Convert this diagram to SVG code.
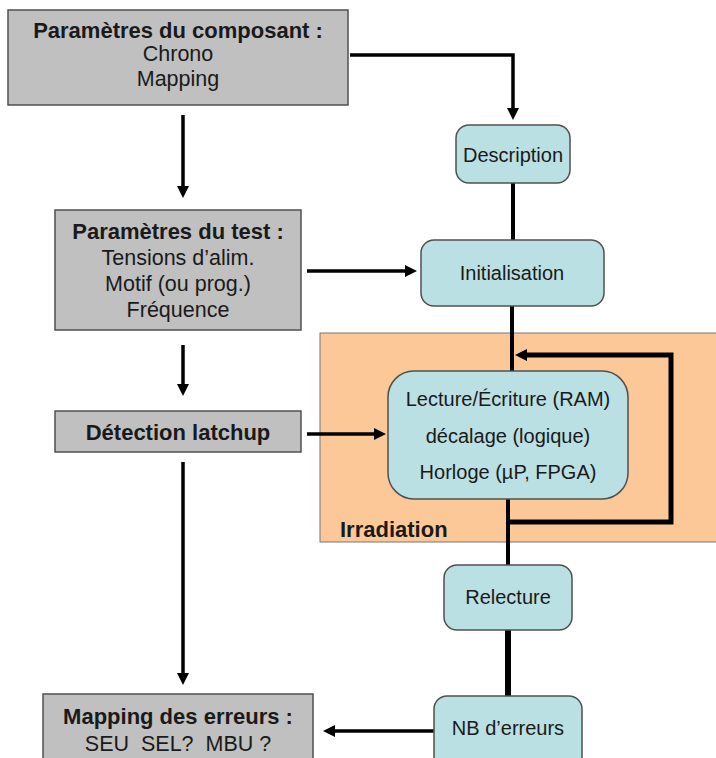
<svg xmlns="http://www.w3.org/2000/svg" width="716" height="758" viewBox="0 0 716 758">
<style>
.gray{fill:#c0c0c0;stroke:#505050;stroke-width:1.5}
.teal{fill:#bae0e3;stroke:#505050;stroke-width:1.5}
.t{font-family:"Liberation Sans",Arial,sans-serif;fill:#1a1a1a;text-anchor:middle}
.b{font-weight:bold;font-size:22px}
.r{font-size:21.5px}
.n{font-size:20px}
.c{fill:none;stroke:#000;stroke-width:3.5}
</style>
<defs>
<marker id="ah" viewBox="0 0 12 12" refX="1" refY="6" markerWidth="12" markerHeight="12" markerUnits="userSpaceOnUse" orient="auto">
<path d="M0,0 L12,6 L0,12 z" fill="#000"/>
</marker>
</defs>
<rect id="irradiation-zone" x="320" y="333" width="400" height="209" fill="#fdc897" stroke="#777" stroke-width="1"/>
<text class="t b" x="340" y="537" style="text-anchor:start">Irradiation</text>
<g id="connectors">
<path class="c" d="M350,55 H513 V109" marker-end="url(#ah)"/>
<path class="c" d="M513,183 V240" style="stroke-width:4"/>
<path class="c" d="M512,306 V371" style="stroke-width:4"/>
<path class="c" d="M508,498 V565" style="stroke-width:4"/>
<path class="c" d="M508,522 H671 V355 H526" style="stroke-width:5" marker-end="url(#ah)"/>
<path class="c" d="M508,630 V696" style="stroke-width:6"/>
<path class="c" d="M183,115 V187" marker-end="url(#ah)"/>
<path class="c" d="M307,271 H406" marker-end="url(#ah)"/>
<path class="c" d="M183,345 V385" marker-end="url(#ah)"/>
<path class="c" d="M307,434 H375" marker-end="url(#ah)"/>
<path class="c" d="M183,462 V674" marker-end="url(#ah)"/>
<path class="c" d="M434,731 H334" marker-end="url(#ah)"/>
</g>
<g id="params-composant">
<rect class="gray" x="8" y="10" width="340" height="95"/>
<text class="t b" x="178" y="38">Paramètres du composant :</text>
<text class="t r" x="178" y="61">Chrono</text>
<text class="t r" x="178" y="86">Mapping</text>
</g>
<g id="params-test">
<rect class="gray" x="55" y="210" width="246" height="120"/>
<text class="t b" x="178" y="239">Paramètres du test :</text>
<text class="t r" x="178" y="265">Tensions d’alim.</text>
<text class="t r" x="178" y="291">Motif (ou prog.)</text>
<text class="t r" x="178" y="317">Fréquence</text>
</g>
<g id="detection-latchup">
<rect class="gray" x="55" y="411" width="246" height="41"/>
<text class="t b" x="178" y="440">Détection latchup</text>
</g>
<g id="mapping-erreurs">
<rect class="gray" x="43" y="694" width="270" height="80"/>
<text class="t b" x="178" y="724">Mapping des erreurs :</text>
<text class="t r" x="178" y="751" xml:space="preserve">SEU  SEL?  MBU ?</text>
</g>
<g id="description">
<rect class="teal" x="456" y="125" width="114" height="58" rx="13"/>
<text class="t n" x="513" y="162">Description</text>
</g>
<g id="initialisation">
<rect class="teal" x="421" y="240" width="183" height="66" rx="13"/>
<text class="t n" x="512" y="280">Initialisation</text>
</g>
<g id="lecture-ecriture">
<rect class="teal" x="388" y="371" width="240" height="128" rx="26"/>
<text class="t n" x="508" y="406">Lecture/Écriture (RAM)</text>
<text class="t n" x="508" y="443">décalage (logique)</text>
<text class="t n" x="508" y="479">Horloge (µP, FPGA)</text>
</g>
<g id="relecture">
<rect class="teal" x="444" y="565" width="128" height="65" rx="13"/>
<text class="t n" x="508" y="604">Relecture</text>
</g>
<g id="nb-erreurs">
<rect class="teal" x="434" y="696" width="148" height="80" rx="13"/>
<text class="t n" x="508" y="735">NB d’erreurs</text>
</g>
</svg>
